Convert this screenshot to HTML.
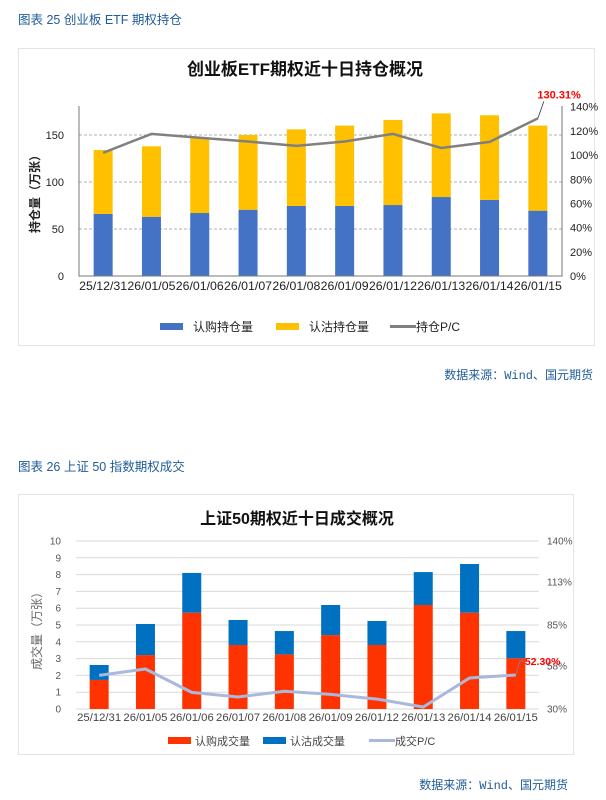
<!DOCTYPE html>
<html><head><meta charset="utf-8">
<style>
body{margin:0;background:#fff;width:606px;height:795px;overflow:hidden;font-family:"Liberation Sans","Noto Sans CJK SC",sans-serif;}
svg text{font-family:"Liberation Sans","Noto Sans CJK SC",sans-serif;}
svg text.mono{font-family:"Liberation Mono","Noto Sans CJK SC",monospace;}
</style></head>
<body>
<svg id="page" width="606" height="795" xmlns="http://www.w3.org/2000/svg">
<text x="18" y="24" font-size="12.5" fill="#1f5c99">图表 25  创业板 ETF 期权持仓</text>
<rect x="18.5" y="48.5" width="576" height="297" fill="#fff" stroke="#e3e3e3"/>
<g id="c1"></g>
<text class="mono" x="593" y="379" font-size="12" fill="#1f5c99" text-anchor="end">数据来源：Wind、国元期货</text>

<text x="18" y="471" font-size="12.5" fill="#1f5c99">图表 26  上证 50 指数期权成交</text>
<rect x="18.5" y="494.5" width="555" height="260" fill="#fff" stroke="#e3e3e3"/>
<g id="c2"></g>
<text class="mono" x="568" y="789" font-size="12" fill="#1f5c99" text-anchor="end">数据来源：Wind、国元期货</text>
</svg>
<script>
const NS="http://www.w3.org/2000/svg";
function mk(p,tag,a,txt){const e=document.createElementNS(NS,tag);for(const k in a)e.setAttribute(k,a[k]);if(txt!==undefined)e.textContent=txt;p.appendChild(e);return e;}

// ---- Chart 1 data ----
const cats1=["25/12/31","26/01/05","26/01/06","26/01/07","26/01/08","26/01/09","26/01/12","26/01/13","26/01/14","26/01/15"];
const call1=[66,63,67,70.5,74.5,74.5,75.5,84,81,69.5];
const put1=[68,75,80,79.5,81.5,85.5,90.5,89,90,90.5];
const pc1=[101.9,117.5,114.3,111.2,107.6,111.2,117.5,105.9,110.9,130.31];
const leftTicks1=[0,50,100,150];
const rightTicks1=[0,20,40,60,80,100,120,140];

// ---- Chart 2 data ----
const cats2=["25/12/31","26/01/05","26/01/06","26/01/07","26/01/08","26/01/09","26/01/12","26/01/13","26/01/14","26/01/15"];
const call2=[1.73,3.21,5.73,3.81,3.25,4.40,3.81,6.19,5.73,3.02];
const put2=[0.89,1.85,2.37,1.49,1.39,1.79,1.43,1.96,2.90,1.62];
const pc2=[52.0,56.2,40.9,37.9,41.6,39.6,36.5,31.3,50.3,52.30];
const leftTicks2=[0,1,2,3,4,5,6,7,8,9,10];
const rightTicks2=[30,58,85,113,140];

// ---- Chart 1 ----
(function(){
  const g=document.getElementById('c1');
  const L=79,R=562,B=276;
  const y=v=>B-v*0.94;
  const yr=v=>B-v*(169.3/140);
  const bw=(R-L)/cats1.length;
  const x=i=>L+bw*(i+0.5);
  let t=mk(g,'text',{x:305,y:75,'font-size':17,'font-weight':'bold','text-anchor':'middle',fill:'#111'},'创业板ETF期权近十日持仓概况');
  
  
  leftTicks1.forEach(v=>{
    if(v>0){const l=mk(g,'line',{x1:L,x2:R,y1:y(v),y2:y(v),stroke:'#999','stroke-dasharray':'3,2','stroke-width':0.8});
    
    }
    const tx=mk(g,'text',{x:64,y:y(v)+4,'font-size':11,'text-anchor':'end',fill:'#222'},v);
    
    
  });
  rightTicks1.forEach(v=>{
    const tx=mk(g,'text',{x:570,y:yr(v)+4,'font-size':11,fill:'#222'},v+'%');
    
    
  });
  cats1.forEach((c,i)=>{
    const cx=x(i);
    const r1=mk(g,'rect',{x:cx-9.5,y:y(call1[i]),width:19,height:B-y(call1[i]),fill:'#4472c4'});
    
    
    const r2=mk(g,'rect',{x:cx-9.5,y:y(call1[i]+put1[i]),width:19,height:put1[i]*0.94,fill:'#ffc000'});
    
    
    const tx=mk(g,'text',{x:cx,y:290,'font-size':12,'text-anchor':'middle',fill:'#222',textLength:48,lengthAdjust:'spacingAndGlyphs'},c);
    
    
  });
  const ax=mk(g,'path',{d:`M${L} 106V${B}H${R}V106`,fill:'none',stroke:'#777','stroke-width':1});
  
  
  const ln=mk(g,'polyline',{points:pc1.map((v,i)=>x(i)+','+yr(v)).join(' '),fill:'none',stroke:'#808080','stroke-width':2.5});
  
  
  const n=pc1.length-1;
  const lead=mk(g,'line',{x1:x(n),y1:yr(pc1[n]),x2:x(n)+6,y2:yr(pc1[n])-17,stroke:'#333','stroke-width':0.8});
  
  
  const lb=mk(g,'text',{x:x(n)+43,y:yr(pc1[n])-20,'font-size':11,'font-weight':'bold','text-anchor':'end',fill:'#ff0000'},pc1[n].toFixed(2)+'%');
  
  
  const yt=mk(g,'text',{transform:'translate(39,191) rotate(-90)','font-size':12,'font-weight':'bold','text-anchor':'middle',fill:'#222'},'持仓量（万张）');
  
  
  const leg=[["#4472c4","认购持仓量",160,'rect'],["#ffc000","认沽持仓量",276,'rect'],["#808080","持仓P/C",390,'line']];
  leg.forEach(d=>{
    const e=mk(g,'g',{});
    
    
    if(d[3]==='rect')mk(e,'rect',{x:d[2],y:323,width:23,height:7,fill:d[0]});
    else mk(e,'line',{x1:d[2],x2:d[2]+26,y1:326.5,y2:326.5,stroke:d[0],'stroke-width':3});
    mk(e,'text',{x:d[2]+(d[3]==='rect'?33:26),y:331,'font-size':12,fill:'#222'},d[1]);
  });
})();

// ---- Chart 2 ----
(function(){
  const g=document.getElementById('c2');
  const L=76,R=539,B=709;
  const y=v=>B-v*16.8;
  const yr=v=>B-(v-30)*(168/110);
  const bw=(R-L)/cats2.length;
  const x=i=>L+bw*(i+0.5);
  let t=mk(g,'text',{x:297,y:524,'font-size':16,'font-weight':'bold','text-anchor':'middle',fill:'#111'},'上证50期权近十日成交概况');
  
  
  leftTicks2.forEach(v=>{
    const l=mk(g,'line',{x1:L,x2:R,y1:y(v),y2:y(v),stroke:'#d9d9d9','stroke-width':1});
    
    
    const tx=mk(g,'text',{x:61,y:y(v)+3.5,'font-size':10,'text-anchor':'end',fill:'#555'},v);
    
    
  });
  rightTicks2.forEach(v=>{
    const tx=mk(g,'text',{x:547,y:yr(v)+3.5,'font-size':10,fill:'#555'},v+'%');
    
    
  });
  cats2.forEach((c,i)=>{
    const cx=x(i);
    const r1=mk(g,'rect',{x:cx-9.5,y:y(call2[i]),width:19,height:call2[i]*16.8,fill:'#ff3300'});
    
    
    const r2=mk(g,'rect',{x:cx-9.5,y:y(call2[i]+put2[i]),width:19,height:put2[i]*16.8,fill:'#0070c0'});
    
    
    const tx=mk(g,'text',{x:cx,y:721,'font-size':11,'text-anchor':'middle',fill:'#444',textLength:44,lengthAdjust:'spacingAndGlyphs'},c);
    
    
  });
  const ln=mk(g,'polyline',{points:pc2.map((v,i)=>x(i)+','+yr(v)).join(' '),fill:'none',stroke:'#a9b8dc','stroke-width':3});
  
  
  const n=pc2.length-1;
  const lead=mk(g,'polyline',{points:`${x(n)},${yr(pc2[n])} ${x(n)+4},${yr(pc2[n])-14} ${x(n)+8},${yr(pc2[n])-14}`,fill:'none',stroke:'#888','stroke-width':0.8});
  
  
  const lb=mk(g,'text',{x:x(n)+9,y:yr(pc2[n])-10,'font-size':10.5,'font-weight':'bold',fill:'#ff0000'},pc2[n].toFixed(2)+'%');
  
  
  const yt=mk(g,'text',{transform:'translate(41,628) rotate(-90)','font-size':12,'text-anchor':'middle',fill:'#666'},'成交量（万张）');
  
  
  const leg=[["#ff3300","认购成交量",168,'rect'],["#0070c0","认沽成交量",263,'rect'],["#a9b8dc","成交P/C",369,'line']];
  leg.forEach(d=>{
    const e=mk(g,'g',{});
    
    
    if(d[3]==='rect')mk(e,'rect',{x:d[2],y:737,width:23,height:7,fill:d[0]});
    else mk(e,'line',{x1:d[2],x2:d[2]+26,y1:740.5,y2:740.5,stroke:d[0],'stroke-width':3});
    mk(e,'text',{x:d[2]+(d[3]==='rect'?27:26),y:745,'font-size':11,fill:'#444'},d[1]);
  });
})();
</script>
</body></html>
